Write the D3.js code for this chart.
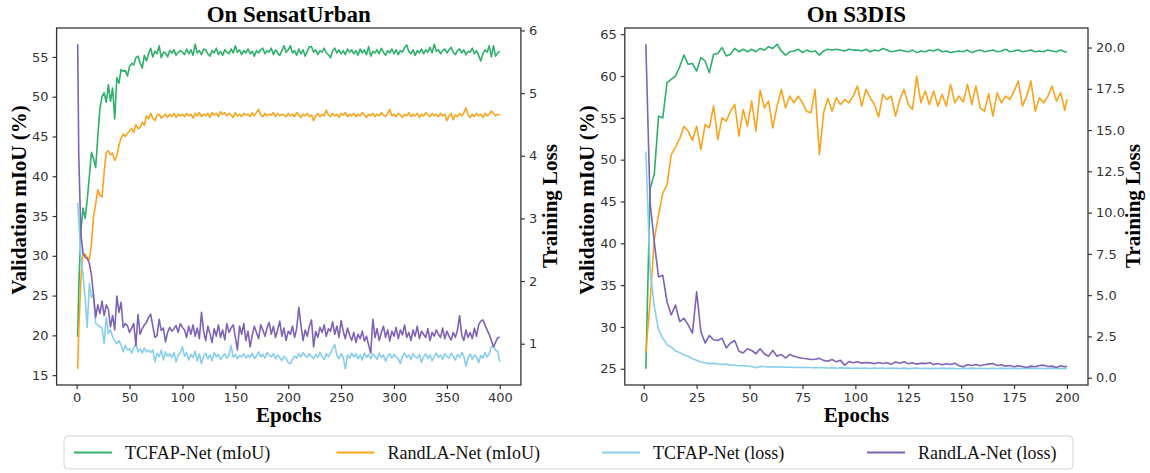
<!DOCTYPE html>
<html>
<head>
<meta charset="utf-8">
<script src="https://cdn.jsdelivr.net/npm/d3@7"></script>
<style>
  body { margin: 0; background: #fff; }
  svg { display: block; }
  .tick text { font-family: "DejaVu Sans", sans-serif; font-size: 13px; fill: #333; }
  .tick line { stroke: #333; }
</style>
</head>
<body>
<svg id="chart" width="1150" height="473"></svg>
<script>
// ---- data: SensatUrban (epoch 1, then every 2 epochs up to 400)
const epochsSU = [1, ...d3.range(2, 401, 2)];
const tcfapMiouSU = [
  19.8, 26.0, 33.0, 36.0, 34.7, 37.0, 40.0, 43.0, 42.2, 41.1,
  45.0, 48.5, 50.0, 50.5, 49.3, 51.5, 49.4, 51.1, 47.2, 52.4,
  51.7, 53.4, 53.2, 53.3, 52.6, 53.8, 54.2, 54.0, 54.9, 55.1,
  54.2, 53.6, 55.2, 54.5, 55.4, 56.1, 55.0, 55.7, 55.4, 56.4,
  54.9, 55.6, 55.5, 55.0, 55.8, 55.5, 55.9, 55.2, 55.6, 55.8,
  55.6,
  55.3, 56.0, 55.4, 55.9, 55.2, 56.6, 55.5, 55.8, 55.3, 56.0,
  55.9, 55.4, 55.1, 55.8, 55.5, 56.1, 55.3, 55.7, 55.2, 55.9,
  55.6, 55.4, 56.0, 55.5, 56.4, 55.6, 55.9, 55.3, 55.8, 55.5,
  56.0, 55.4, 55.7, 55.1, 55.8, 55.5, 55.9, 56.1, 55.4, 55.8,
  55.6, 56.1, 55.3, 55.9, 55.5, 55.2, 55.8, 56.4, 55.6, 55.9,
  56.4, 55.5, 55.8, 55.2, 56.0, 55.4, 55.9, 55.1, 55.7, 56.3,
  56.3, 55.6, 55.9, 55.3, 55.8, 55.6, 56.1, 55.5, 55.3, 54.9,
  55.8, 56.1, 55.5, 55.9, 55.4, 55.8, 55.3, 56.0, 55.6, 55.9,
  55.4, 55.8, 55.2, 56.0, 55.5, 55.9, 55.3, 56.3, 55.1, 55.7,
  55.5, 55.9, 55.4, 56.1, 55.6, 55.2, 55.8, 55.5, 56.0, 55.4,
  55.9, 55.3, 55.8, 55.6, 56.2, 56.5, 55.7, 55.4, 55.9, 55.2,
  55.8, 55.5, 56.0, 55.4, 55.9, 55.6, 56.2, 55.5, 56.6, 55.7,
  55.9, 55.4, 55.8, 56.0, 55.5, 55.9, 56.2, 55.6, 55.3, 55.8,
  56.0, 55.5, 55.9, 55.3, 55.7, 55.6, 56.1, 55.4, 55.8, 55.2,
  54.5, 55.4, 55.9, 55.6, 56.4, 55.0, 56.4, 55.1, 55.5, 55.7
];
const randlaMiouSU = [
  15.8, 20.5, 27.0, 30.3, 30.2, 29.8, 29.5, 31.5, 35.0, 36.5,
  38.3, 37.6, 37.4, 40.5, 43.0, 43.2, 42.7, 42.9, 42.0, 42.5,
  43.9, 44.8, 45.3, 45.0, 45.4, 45.7, 46.0, 45.5, 46.5, 46.0,
  46.1, 46.8, 46.4, 47.6, 47.2, 47.9, 47.3, 47.0, 47.7, 47.8,
  47.3, 47.6, 47.8, 47.4, 47.8, 47.5, 47.9, 47.4, 47.8, 47.6,
  47.8,
  47.5, 47.9, 47.6, 47.8, 47.3, 47.9, 47.6, 48.0, 47.5, 47.8,
  47.6, 47.9, 47.4, 48.0, 47.7, 47.9, 47.5, 48.1, 47.8, 48.0,
  47.6, 47.9, 47.7, 47.4, 48.0, 47.6, 47.8, 47.5, 47.9, 47.7,
  47.8, 47.5, 48.0, 47.6, 48.0, 48.4, 47.7, 47.5, 47.9, 47.6,
  47.8, 47.7, 48.0, 47.5, 47.9, 47.6, 47.8, 47.7, 47.5, 47.9,
  47.6, 47.8, 47.5, 48.0, 47.7, 47.4, 47.8, 47.6, 47.9, 47.5,
  47.7, 47.0, 47.6, 47.9, 47.5, 47.8, 47.6, 48.3, 47.7, 47.5,
  47.9, 47.6, 47.8, 47.4, 47.9, 47.7, 48.0, 47.5, 47.8, 47.6,
  47.9, 47.5, 47.8, 47.6, 48.0, 47.7, 47.4, 47.8, 47.6, 47.9,
  47.5, 47.8, 47.6, 48.0, 47.7, 47.5, 47.9, 48.4, 47.6, 47.8,
  47.5, 47.9, 47.7, 47.4, 47.8, 47.6, 48.0, 47.5, 47.8, 47.6,
  47.9, 47.4, 47.8, 47.6, 48.0, 47.7, 47.5, 47.9, 47.6, 47.8,
  47.5, 47.9, 47.6, 47.8, 47.0, 47.6, 47.9, 47.1, 47.7, 47.5,
  47.9, 47.6, 48.0, 48.6, 47.7, 47.4, 47.8, 47.5, 47.9, 47.6,
  47.8, 47.4, 47.9, 47.6, 47.8, 48.2, 47.9, 47.6, 47.8, 47.7
];
const tcfapLossSU = [
  3.25, 2.95, 2.40, 2.10, 1.74, 1.26, 1.96, 1.74, 1.79, 1.32,
  1.30, 1.27, 1.25, 1.00, 1.42, 1.16, 1.22, 1.11, 1.05, 1.00,
  1.05, 0.98, 0.87, 0.97, 0.90, 0.92, 0.85, 0.93, 1.00, 0.87,
  0.92, 0.85, 0.93, 0.87, 0.90, 0.86, 0.90, 0.71, 0.85, 0.79,
  0.90, 0.74, 0.87, 0.80, 0.84, 0.78, 0.86, 0.71, 0.82, 0.85,
  0.95,
  0.80, 0.86, 0.74, 0.83, 0.78, 0.88, 0.72, 0.84, 0.68, 0.80,
  0.85, 0.76, 0.82, 0.73, 0.86, 0.79, 0.83, 0.75, 0.80, 0.84,
  0.77, 0.82, 0.97, 0.78, 0.83, 0.76, 0.81, 0.79, 0.84, 0.77,
  0.82, 0.78, 0.85, 0.76, 0.81, 0.87, 0.79, 0.83, 0.77, 0.86,
  0.82, 0.79, 0.84, 0.76, 0.82, 0.78, 0.73, 0.80, 0.77, 0.70,
  0.68, 0.75, 0.80, 0.77, 0.84, 0.79, 0.86, 0.81, 0.78, 0.84,
  0.80, 0.76, 0.83, 0.78, 0.86, 0.80, 0.75, 0.84, 0.79, 0.85,
  0.92, 0.99, 0.81, 0.76, 0.84, 0.78, 0.60, 0.82, 0.77, 0.85,
  0.79, 0.84, 0.76, 0.82, 0.74, 0.85, 0.78, 0.83, 0.76, 0.84,
  0.80, 0.75, 0.85, 0.78, 0.82, 0.72, 0.80, 0.84, 0.77, 0.83,
  0.79, 0.76, 0.68, 0.80, 0.85, 0.78, 0.82, 0.75, 0.84, 0.79,
  0.77, 0.83, 0.70, 0.79, 0.84, 0.76, 0.82, 0.73, 0.80, 0.85,
  0.78, 0.82, 0.75, 0.84, 0.79, 0.77, 0.85, 0.80, 0.74, 0.83,
  0.78, 0.86, 0.80, 0.64, 0.77, 0.84, 0.75, 0.82, 0.79, 0.70,
  0.81, 0.77, 0.86, 0.79, 0.84, 0.95, 0.97, 0.90, 0.88, 0.71
];
const randlaLossSU = [
  5.78, 4.00, 2.75, 2.45, 2.38, 2.36, 2.28, 2.10, 1.76, 1.42,
  1.62, 1.48, 1.68, 1.45, 1.62, 1.55, 1.27, 1.45, 1.22, 1.76,
  1.50, 1.66, 1.26, 1.32, 1.29, 1.18, 1.25, 1.32, 0.97, 1.47,
  1.15, 1.24, 1.30, 1.34, 1.42, 1.47, 1.28, 1.10, 1.13, 1.39,
  1.21, 1.25, 1.03, 1.18, 1.26, 1.20, 1.24, 1.29, 1.18, 1.32,
  1.26,
  1.22, 1.10, 1.28, 1.15, 1.30, 1.12, 1.25, 1.08, 1.50, 1.20,
  1.05, 1.28, 1.16, 1.02, 1.24, 1.12, 1.30, 1.10, 1.22, 1.06,
  1.32, 1.18, 1.25, 1.30, 1.10, 0.90, 1.28, 1.15, 1.32, 1.05,
  1.20, 0.95, 1.14, 1.28, 1.18, 1.08, 1.30, 1.22, 1.12, 1.25,
  1.34, 1.15, 1.28, 1.10, 1.22, 1.36, 1.12, 1.25, 1.05, 1.20,
  1.15, 1.28, 1.10, 1.24, 1.58, 1.30, 1.05, 1.22, 1.12, 1.28,
  1.38, 0.95, 1.20, 1.10, 1.26, 1.18, 1.30, 1.12, 1.24, 1.20,
  1.35, 1.15, 1.28, 1.10, 1.37, 1.20, 1.08, 1.25, 1.14, 1.05,
  1.18, 1.02, 1.15, 1.08, 1.20, 1.04, 1.12, 0.98, 0.85, 1.39,
  1.10, 1.24, 1.05, 1.18, 1.28, 1.10, 1.22, 1.04, 1.20, 1.12,
  1.26, 1.08, 1.22, 1.14, 1.30, 1.10, 1.18, 1.05, 1.22, 1.12,
  1.28, 1.08, 1.20, 1.15, 1.10, 1.24, 1.05, 1.18, 1.12, 1.22,
  1.15, 1.10, 1.25, 1.08, 1.20, 1.12, 1.06, 1.18, 1.10, 1.22,
  1.45, 1.14, 1.05, 1.22, 1.10, 1.18, 1.08, 1.25, 1.12, 1.30,
  1.36, 1.38, 1.30, 1.22, 1.15, 1.05, 0.95, 1.02, 1.10, 1.10
];

// ---- data: S3DIS (odd epochs, then 200)
const epochsS3 = [...d3.range(1, 200, 2), 200];
const tcfapMiouS3 = [
  25.0, 46.5, 48.3, 55.2, 55.0, 59.2, 59.6, 60.0, 61.1, 62.5,
  61.4, 61.5, 60.6, 62.2, 61.8, 60.4, 62.6, 62.7, 63.4, 62.4,
  62.6, 63.3, 62.9, 63.2, 62.9, 63.2, 62.9, 63.3, 63.1, 63.5,
  63.3, 63.8, 63.0, 62.5, 62.9, 63.0, 63.2, 62.8, 63.1, 62.9,
  63.0, 62.5, 63.0, 63.2, 63.1, 63.2, 63.1, 63.0, 63.2, 63.1,
  63.1, 63.0, 63.2, 62.9, 63.1, 63.0, 63.3, 63.1, 62.9, 63.0,
  63.1, 63.0, 62.9, 63.1, 62.8, 63.0, 62.9, 63.1, 63.0, 63.2,
  62.9, 63.0, 62.8, 62.9, 63.0, 62.9, 63.1, 62.8, 63.0, 63.1,
  62.9, 63.0, 63.1, 62.9, 63.0, 63.2, 62.9, 63.0, 63.1, 62.9,
  63.0, 63.1, 62.9, 63.0, 62.9, 63.1, 63.0, 62.9, 63.1, 62.9,
  62.9
];
const randlaMiouS3 = [
  27.0, 33.0, 40.5, 43.4, 46.0, 47.0, 50.6, 51.5, 52.5, 54.0,
  53.4, 52.3, 54.0, 51.2, 54.2, 53.8, 56.4, 52.4, 55.0, 54.6,
  55.8, 56.6, 52.8, 56.0, 54.0, 57.0, 53.4, 58.3, 56.2, 57.0,
  53.8, 56.4, 58.4, 56.2, 57.6, 56.8, 57.6, 56.8, 55.8, 55.6,
  58.4, 50.6, 55.6, 57.3, 55.8, 57.4, 56.6, 57.2, 56.8, 57.6,
  58.8, 56.4, 58.4, 57.4, 56.6, 55.1, 57.8, 57.2, 57.6, 55.2,
  57.2, 58.4, 56.6, 56.0, 60.0, 56.8, 58.2, 56.6, 58.2, 56.4,
  57.8, 56.4, 59.0, 56.8, 57.6, 56.9, 59.0, 56.6, 58.8, 56.2,
  55.8, 57.9, 55.2, 58.0, 56.8, 57.6, 57.2, 58.2, 59.4, 56.4,
  57.6, 59.4, 55.8, 57.4, 56.8, 57.6, 58.8, 57.0, 58.0, 55.9,
  57.2
];
const tcfapLossS3 = [
  13.7, 6.5, 4.3, 2.9, 2.4, 2.0, 1.85, 1.62, 1.52, 1.38,
  1.30, 1.15, 1.05, 0.95, 0.90, 0.85, 0.88, 0.82, 0.80, 0.82,
  0.76, 0.75, 0.72, 0.74, 0.70, 0.68, 0.60, 0.67, 0.68, 0.65,
  0.66, 0.64, 0.66, 0.63, 0.64, 0.62, 0.63, 0.61, 0.63, 0.60,
  0.62, 0.60, 0.61, 0.59, 0.60, 0.58, 0.60, 0.58, 0.59, 0.57,
  0.58, 0.57, 0.59, 0.56, 0.58, 0.57, 0.59, 0.56, 0.58, 0.57,
  0.56, 0.58, 0.55, 0.57, 0.58, 0.56, 0.57, 0.55, 0.57, 0.56,
  0.58, 0.55, 0.57, 0.56, 0.54, 0.57, 0.56, 0.58, 0.55, 0.57,
  0.56, 0.55, 0.57, 0.56, 0.58, 0.55, 0.57, 0.56, 0.55, 0.57,
  0.56, 0.58, 0.55, 0.57, 0.56, 0.55, 0.57, 0.56, 0.55, 0.57,
  0.56
];
const randlaLossS3 = [
  20.2, 10.6, 8.2, 6.1, 6.2, 4.6, 3.8, 4.4, 3.4, 3.6,
  3.2, 2.7, 5.2, 2.8, 2.1, 2.55, 2.3, 2.25, 2.4, 1.8,
  2.1, 2.25, 1.6, 1.5, 1.75, 1.65, 1.45, 1.75, 1.45, 1.3,
  1.65, 1.3, 1.4, 1.2, 1.4, 1.3, 1.22, 1.18, 1.15, 1.1,
  1.12, 1.17, 1.05, 1.0, 1.1, 0.96, 1.05, 0.76, 0.98, 0.9,
  0.96, 0.88, 0.92, 0.9, 0.85, 0.92, 0.86, 0.9, 0.82, 0.95,
  0.88, 0.96, 0.84, 0.9, 0.82, 0.88, 0.85, 0.92, 0.8, 0.86,
  0.78, 0.84, 0.8, 0.88, 0.72, 0.66, 0.78, 0.74, 0.8, 0.72,
  0.78, 0.82, 0.86, 0.74, 0.78, 0.7, 0.74, 0.66, 0.72, 0.68,
  0.62, 0.7, 0.66, 0.74, 0.76, 0.68, 0.7, 0.62, 0.72, 0.66,
  0.7
];

const seriesNames = ['TCFAP-Net (mIoU)', 'RandLA-Net (mIoU)', 'TCFAP-Net (loss)', 'RandLA-Net (loss)'];
const seriesColors = ['#2eaf6a', '#f9a31c', '#87ceeb', '#7e62b6'];

const svg = d3.select('#chart');
const serif = '"Liberation Serif", "Times New Roman", serif';
const pad = ([a, b]) => [a - (b - a) * 0.05, b + (b - a) * 0.05];

function drawPanel(p) {
  const x = d3.scaleLinear().domain(pad(d3.extent(p.epochs))).range([p.left, p.right]);
  const y = d3.scaleLinear().domain(pad(d3.extent(p.miou.flat()))).range([p.bottom, p.top]);
  const y2 = d3.scaleLinear().domain(pad(d3.extent(p.loss.flat()))).range([p.bottom, p.top]);

  const g = svg.append('g');

  const draw = (vals, scale, color) => {
    const line = d3.line().x((d, i) => x(p.epochs[i])).y(d => scale(d));
    g.append('path')
      .attr('d', line(vals))
      .attr('fill', 'none')
      .attr('stroke', color)
      .attr('stroke-width', 1.6)
      .attr('stroke-linejoin', 'round');
  };
  draw(p.miou[0], y, seriesColors[0]);
  draw(p.miou[1], y, seriesColors[1]);
  draw(p.loss[0], y2, seriesColors[2]);
  draw(p.loss[1], y2, seriesColors[3]);

  const ax = (axis, tr) => {
    const a = g.append('g').attr('transform', tr).call(axis.tickSize(4).tickPadding(4).tickSizeOuter(0));
    a.select('.domain').remove();
    a.selectAll('.tick line').attr('stroke-width', 1.2);
  };
  ax(d3.axisBottom(x).tickValues(p.xTicks), `translate(0,${p.bottom})`);
  ax(d3.axisLeft(y).tickValues(p.yTicks), `translate(${p.left},0)`);
  ax(d3.axisRight(y2).tickValues(p.lossTicks).tickFormat(p.lossFmt), `translate(${p.right},0)`);

  g.append('rect')
    .attr('x', p.left).attr('y', p.top)
    .attr('width', p.right - p.left).attr('height', p.bottom - p.top)
    .attr('fill', 'none').attr('stroke', '#333').attr('stroke-width', 1.3);

  const cx = (p.left + p.right) / 2;
  g.append('text')
    .attr('x', cx).attr('y', 22)
    .attr('text-anchor', 'middle')
    .style('font', `bold 23px ${serif}`)
    .text(p.title);
  g.append('text')
    .attr('x', cx).attr('y', 422)
    .attr('text-anchor', 'middle')
    .style('font', `bold 21px ${serif}`)
    .text('Epochs');
  g.append('text')
    .attr('transform', `translate(${p.left - 31},200) rotate(-90)`)
    .attr('text-anchor', 'middle')
    .style('font', `bold 21px ${serif}`)
    .text('Validation mIoU (%)');
  g.append('text')
    .attr('transform', `translate(${p.right + p.lossLabelGap},206) rotate(-90)`)
    .attr('text-anchor', 'middle')
    .style('font', `bold 21px ${serif}`)
    .text('Training Loss');
}

drawPanel({
  title: 'On SensatUrban',
  left: 56.6, right: 520.9, top: 28, bottom: 385,
  epochs: epochsSU,
  miou: [tcfapMiouSU, randlaMiouSU],
  loss: [tcfapLossSU, randlaLossSU],
  xTicks: d3.range(0, 401, 50),
  yTicks: d3.range(15, 56, 5),
  lossTicks: [1, 2, 3, 4, 5, 6],
  lossFmt: d3.format('d'),
  lossLabelGap: 36
});

drawPanel({
  title: 'On S3DIS',
  left: 624.8, right: 1088, top: 28, bottom: 385,
  epochs: epochsS3,
  miou: [tcfapMiouS3, randlaMiouS3],
  loss: [tcfapLossS3, randlaLossS3],
  xTicks: d3.range(0, 201, 25),
  yTicks: d3.range(25, 66, 5),
  lossTicks: d3.range(0, 20.1, 2.5),
  lossFmt: d3.format('.1f'),
  lossLabelGap: 52
});

// legend
const legendX = [74, 336.5, 602, 867];
const legend = svg.append('g');
legend.append('rect')
  .attr('x', 64).attr('y', 436).attr('width', 1009).attr('height', 33)
  .attr('rx', 4).attr('fill', '#fff').attr('stroke', '#d3d3d3').attr('stroke-width', 1);
seriesNames.forEach((name, i) => {
  legend.append('line')
    .attr('x1', legendX[i]).attr('x2', legendX[i] + 38)
    .attr('y1', 452.5).attr('y2', 452.5)
    .attr('stroke', seriesColors[i]).attr('stroke-width', 2.2);
  legend.append('text')
    .attr('x', legendX[i] + 51).attr('y', 459)
    .style('font', `18px ${serif}`)
    .attr('fill', '#111')
    .text(name);
});
</script>
</body>
</html>
